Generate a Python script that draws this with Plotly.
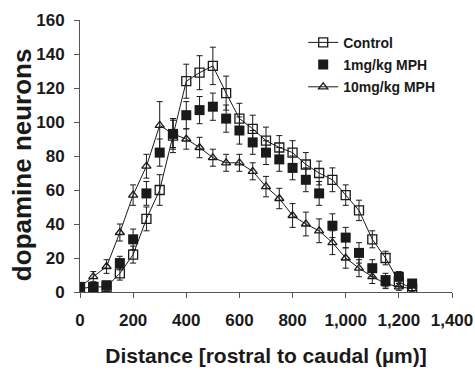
import plotly.graph_objects as go

distance = [0, 50, 100, 150, 200, 250, 300, 350, 400, 450, 500, 550, 600,
            650, 700, 750, 800, 850, 900, 950, 1000, 1050, 1100, 1150, 1200, 1250]

control = [2, 3, 3, 11, 22, 43, 60, 92, 124, 129, 133, 117, 102,
           96, 89, 85, 82, 75, 70, 66, 57, 48, 31, 20, 6, 2]
control_err = [2, 2, 2, 4, 5, 7, 9, 10, 10, 10, 11, 10, 9,
               8, 8, 7, 7, 7, 7, 7, 6, 6, 5, 4, 3, 2]

mph1 = [3, 3, 4, 17, 31, 58, 82, 93, 104, 107, 109, 102, 95,
        88, 82, 78, 73, 66, 58, 39, 32, 23, 14, 7, 9, 5]
mph1_err = [2, 2, 2, 4, 6, 7, 8, 9, 8, 8, 8, 8, 8,
            7, 7, 7, 7, 7, 7, 7, 6, 6, 5, 4, 3, 2]

mph10 = [3, 9, 15, 35, 57, 74, 98, 93, 90, 85, 79, 76, 76,
         71, 62, 55, 45, 40, 36, 29, 20, 14, 9, 5, 3, 2]
mph10_err = [2, 3, 4, 5, 6, 7, 14, 8, 6, 6, 5, 5, 5,
             5, 6, 6, 7, 7, 7, 7, 6, 5, 4, 3, 2, 2]

x_ticks = [0, 200, 400, 600, 800, 1000, 1200, 1400]
x_tick_labels = ["0", "200", "400", "600", "800", "1,000", "1,200", "1,400"]
y_ticks = [0, 20, 40, 60, 80, 100, 120, 140, 160]

ink = "#1a1a1a"
font_family = "Liberation Sans, Arial, sans-serif"

def err(vals):
    return dict(type="data", array=vals, visible=True, color=ink,
                thickness=1, width=3)

fig = go.Figure()
fig.add_trace(go.Scatter(
    x=distance, y=control, name="Control", mode="lines+markers",
    legendgroup="c",
    line=dict(color=ink, width=1),
    marker=dict(symbol="square-open", size=9, color=ink, line=dict(width=1.3)),
    error_y=err(control_err)))
fig.add_trace(go.Scatter(
    x=distance, y=mph1, name="1mg/kg MPH", mode="markers",
    legendgroup="m1",
    marker=dict(symbol="square", size=10, color=ink),
    error_y=err(mph1_err)))
fig.add_trace(go.Scatter(
    x=distance, y=mph10, name="10mg/kg MPH", mode="lines+markers",
    legendgroup="m10",
    line=dict(color=ink, width=1),
    marker=dict(symbol="triangle-up-open", size=8, color=ink, line=dict(width=1.3)),
    error_y=err(mph10_err)))

fig.update_layout(
    width=475, height=377,
    margin=dict(l=80, r=23, t=20, b=85, autoexpand=False),
    paper_bgcolor="white", plot_bgcolor="white",
    font=dict(family=font_family, color=ink, size=12),
    showlegend=True,
    legend=dict(x=0.6, y=0.975, xanchor="left", yanchor="top",
                bgcolor="rgba(0,0,0,0)", itemwidth=30,
                font=dict(family=font_family, size=14, weight="bold"),
                tracegroupgap=1),
    annotations=[dict(
        text="dopamine neurons", textangle=-90,
        xref="paper", yref="paper", x=-0.156, y=0.47,
        xanchor="center", yanchor="middle", showarrow=False,
        font=dict(family=font_family, size=26, weight="bold", color=ink))],
)
fig.update_xaxes(
    range=[0, 1400], tickvals=x_ticks, ticktext=x_tick_labels,
    automargin=False,
    showgrid=False, zeroline=False, showline=True, linecolor="#555", linewidth=1,
    ticks="outside", ticklen=5, tickcolor="#555", ticklabelstandoff=8,
    tickfont=dict(family=font_family, size=17, weight="bold"),
    title=dict(text="Distance [rostral to caudal (µm)]",
               font=dict(family=font_family, size=21, weight="bold"), standoff=18),
)
fig.update_yaxes(
    range=[0, 160], tickvals=y_ticks,
    automargin=False,
    showgrid=False, zeroline=False, showline=True, linecolor="#555", linewidth=1,
    ticks="outside", ticklen=5, tickcolor="#555", ticklabelstandoff=6,
    tickfont=dict(family=font_family, size=17, weight="bold"),
)

fig.write_html("out.html")
